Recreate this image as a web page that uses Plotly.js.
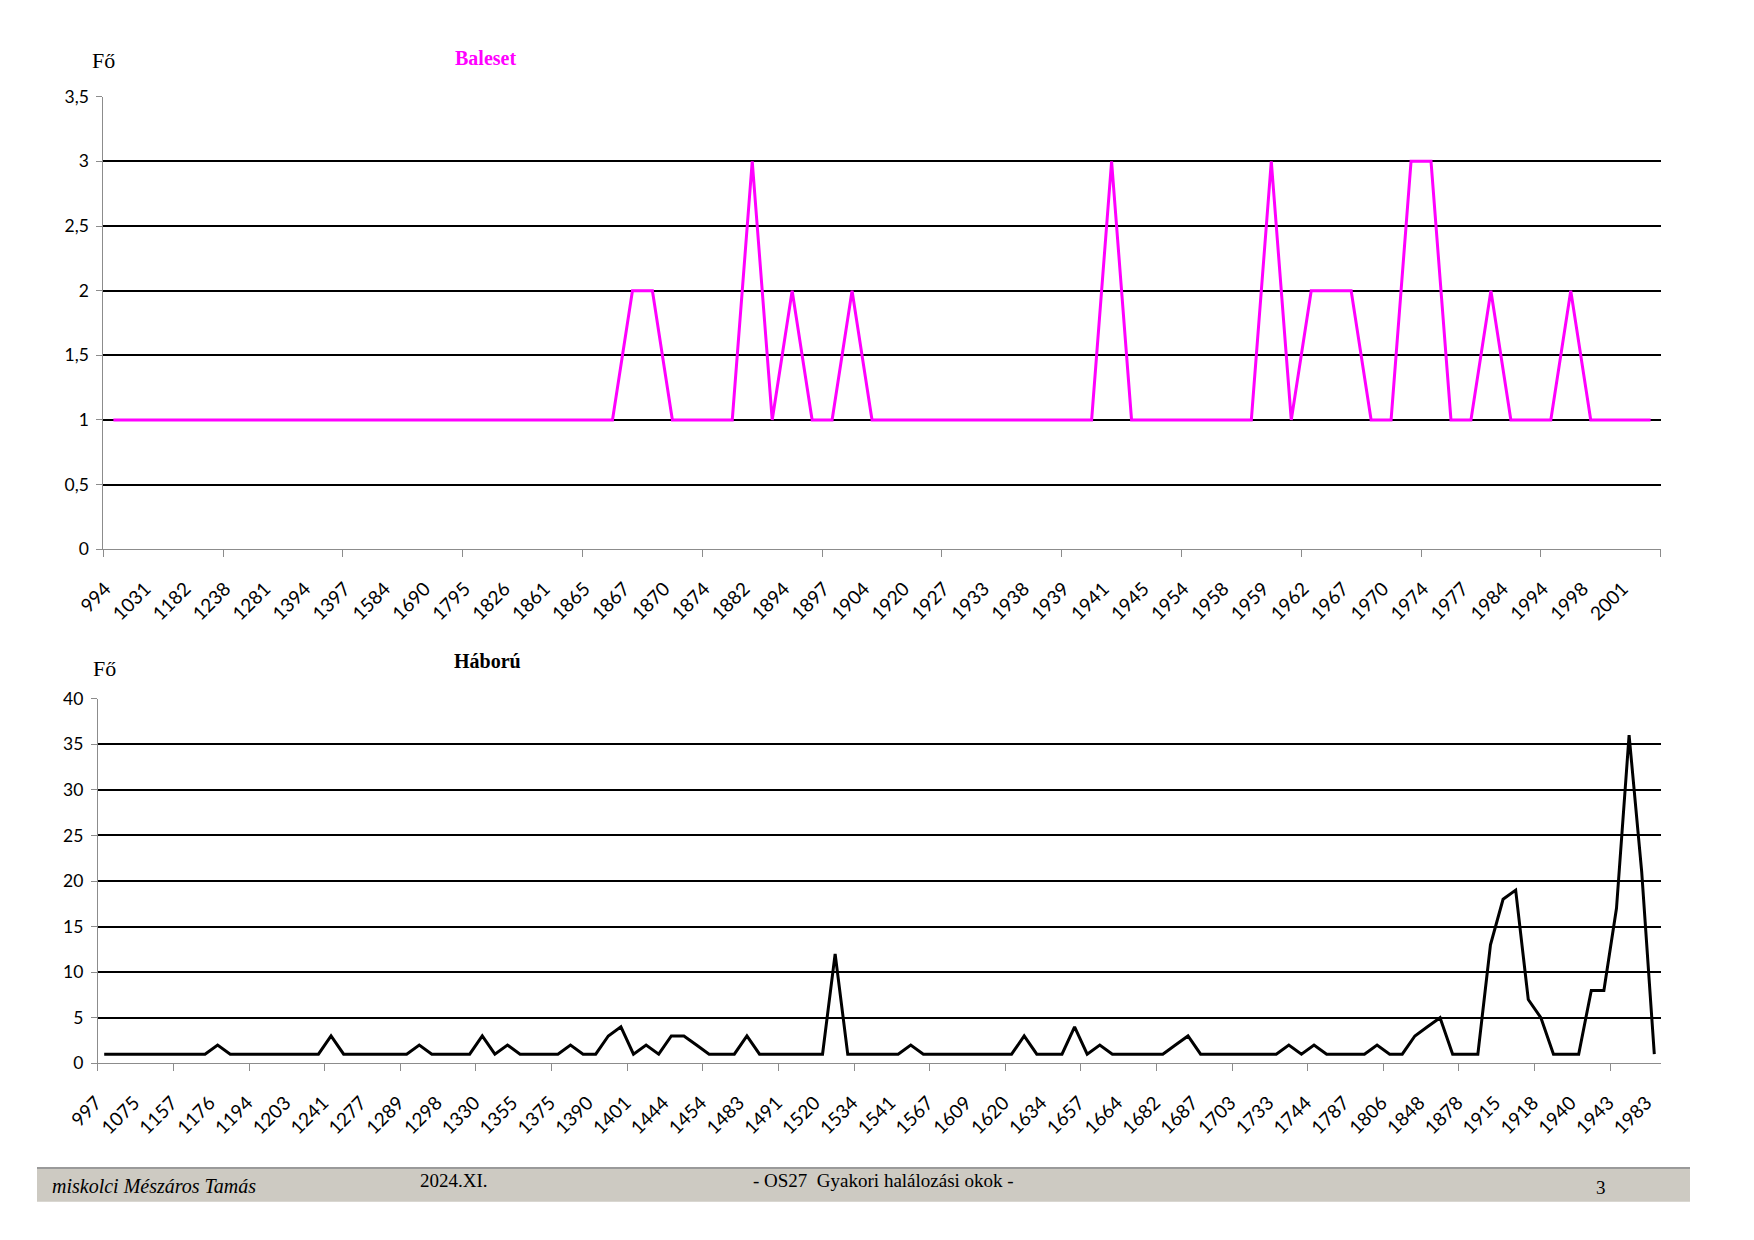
<!DOCTYPE html>
<html>
<head>
<meta charset="utf-8">
<script src="https://cdn.plot.ly/plotly-3.0.1.min.js"></script>
<style>
html,body{margin:0;padding:0;background:#fff;}
#chart{width:1754px;height:1240px;}
</style>
</head>
<body>
<div id="chart"></div>
<script>
// ---- Baleset (accident) chart data: one value per category, every 2nd category labelled
const balesetLabels = ['994','1031','1182','1238','1281','1394','1397','1584','1690','1795','1826','1861','1865','1867','1870','1874','1882','1894','1897','1904','1920','1927','1933','1938','1939','1941','1945','1954','1958','1959','1962','1967','1970','1974','1977','1984','1994','1998','2001'];
const balesetValues = [
  1,1,1,1,1,1,1,1,1,1, 1,1,1,1,1,1,1,1,1,1, 1,1,1,1,1,1,
  2,2, 1,1,1,1, 3, 1, 2, 1,1, 2,
  1,1,1,1,1,1,1,1,1,1,1,1,
  3, 1,1,1,1,1,1,1, 3, 1, 2,2,2, 1,1, 3,3, 1,1, 2, 1,1,1, 2, 1,1,1,1
];
const balesetLabelStep = 2;
const balesetTickStep = 6;

// ---- Háború (war) chart data: one value per category, every 3rd category labelled
const haboruLabels = ['997','1075','1157','1176','1194','1203','1241','1277','1289','1298','1330','1355','1375','1390','1401','1444','1454','1483','1491','1520','1534','1541','1567','1609','1620','1634','1657','1664','1682','1687','1703','1733','1744','1787','1806','1848','1878','1915','1918','1940','1943','1983'];
const haboruValues = [
  1,1,1,1,1,1,1,1,1, 2, 1,1,1,1,1,1,1,1, 3, 1,1,1,1,1,1, 2, 1,1,1,1, 3, 1, 2, 1,1,1,1, 2,
  1,1, 3, 4, 1, 2, 1, 3,3, 2, 1,1,1, 3, 1,1,1,1,1,1, 12, 1,1,1,1,1, 2,
  1,1,1,1,1,1,1,1, 3, 1,1,1, 4, 1, 2, 1,1,1,1,1, 2, 3, 1,1,1,1,1,1,1, 2, 1, 2,
  1,1,1,1, 2, 1,1, 3, 4, 5, 1,1,1, 13, 18, 19, 7, 5, 1,1,1, 8, 8, 17, 36, 21, 1
];
const haboruLabelStep = 3;
const haboruTickStep = 6;

// ---- page geometry helpers (pixels -> paper fractions)
const W = 1754, H = 1240;
const PX = v => v / W;
const PY = v => 1 - v / H;

const indices = arr => arr.map((_, i) => i);
const labelPositions = (labels, step) => labels.map((_, k) => k * step);
function boundaryTicks(n, step, includeEnd) {
  const out = [];
  for (let b = 0; b <= n; b += step) out.push(b - 0.5);
  if (includeEnd && out[out.length - 1] !== n - 0.5) out.push(n - 0.5);
  return out;
}

const AXIS_GRAY = '#8c8c8c';
const tickFontX = {family: 'Lato, "Open Sans", sans-serif', size: 19, color: '#000'};
const tickFontY = {family: 'Lato, "Open Sans", sans-serif', size: 17.5, color: '#000'};

const traces = [
  {
    x: indices(balesetValues), y: balesetValues,
    type: 'scatter', mode: 'lines',
    line: {color: '#FF00FF', width: 3},
    xaxis: 'x', yaxis: 'y', hoverinfo: 'skip'
  },
  {
    x: indices(haboruValues), y: haboruValues,
    type: 'scatter', mode: 'lines',
    line: {color: '#000000', width: 3},
    xaxis: 'x2', yaxis: 'y2', hoverinfo: 'skip'
  }
];

function xAxis(domain, anchor, n, labels, labelStep, tickStep, includeEnd) {
  return {
    domain: domain, anchor: anchor,
    range: [-0.5, n - 0.5],
    tickmode: 'array',
    tickvals: labelPositions(labels, labelStep),
    ticktext: labels,
    tickangle: -45,
    ticks: '',
    showgrid: false, zeroline: false,
    showline: true, linecolor: AXIS_GRAY, linewidth: 1,
    tickfont: tickFontX,
    ticklabelstandoff: 20,
    ticklabelshift: -8,
    minor: {
      tickmode: 'array',
      tickvals: boundaryTicks(n, tickStep, includeEnd),
      ticks: 'outside', ticklen: 7, tickwidth: 1, tickcolor: AXIS_GRAY,
      showgrid: false
    },
    fixedrange: true
  };
}
function yAxis(domain, anchor, max, dtick) {
  return {
    domain: domain, anchor: anchor,
    range: [0, max],
    tickmode: 'linear', tick0: 0, dtick: dtick,
    showgrid: true, gridcolor: '#000', gridwidth: 2,
    zeroline: false,
    showline: true, linecolor: AXIS_GRAY, linewidth: 1,
    ticks: 'outside', ticklen: 6, tickwidth: 1, tickcolor: AXIS_GRAY,
    tickfont: tickFontY,
    ticklabelstandoff: 4,
    fixedrange: true
  };
}

const serif = '"Liberation Serif", "Times New Roman", serif';

const layout = {
  width: W, height: H,
  margin: {l: 0, r: 0, t: 0, b: 0},
  paper_bgcolor: '#fff', plot_bgcolor: '#fff',
  showlegend: false,
  separators: ', ',
  xaxis: xAxis([PX(103.4), PX(1660.6)], 'y', balesetValues.length, balesetLabels, balesetLabelStep, balesetTickStep, true),
  yaxis: yAxis([PY(549.3), PY(96.7)], 'x', 3.5, 0.5),
  xaxis2: xAxis([PX(97.9), PX(1660.6)], 'y2', haboruValues.length, haboruLabels, haboruLabelStep, haboruTickStep, false),
  yaxis2: yAxis([PY(1063.3), PY(698.7)], 'x2', 40, 5),
  shapes: [
    {type: 'rect', xref: 'paper', yref: 'paper', x0: PX(37), x1: PX(1690), y0: PY(1201.7), y1: PY(1167.3),
     fillcolor: '#CDCAC2', line: {width: 0}, layer: 'below'},
    {type: 'line', xref: 'paper', yref: 'paper', x0: PX(37), x1: PX(1690), y0: PY(1168), y1: PY(1168),
     line: {color: '#9a9a9a', width: 2}}
  ],
  annotations: [
    {text: 'Fő', xref: 'paper', yref: 'paper', x: PX(90), y: PY(60.6), xanchor: 'left', yanchor: 'middle',
     showarrow: false, font: {family: serif, size: 22, color: '#000'}},
    {text: '<b>Baleset</b>', xref: 'paper', yref: 'paper', x: PX(485.6), y: PY(58.2), xanchor: 'center', yanchor: 'middle',
     showarrow: false, font: {family: serif, size: 20, color: '#FF00FF'}},
    {text: 'Fő', xref: 'paper', yref: 'paper', x: PX(91), y: PY(668.6), xanchor: 'left', yanchor: 'middle',
     showarrow: false, font: {family: serif, size: 22, color: '#000'}},
    {text: '<b>Háború</b>', xref: 'paper', yref: 'paper', x: PX(487.4), y: PY(661.2), xanchor: 'center', yanchor: 'middle',
     showarrow: false, font: {family: serif, size: 20, color: '#000'}},
    {text: '<i>miskolci Mészáros Tamás</i>', xref: 'paper', yref: 'paper', x: PX(50), y: PY(1185.6), xanchor: 'left', yanchor: 'middle',
     showarrow: false, font: {family: serif, size: 20, color: '#000'}},
    {text: '2024.XI.', xref: 'paper', yref: 'paper', x: PX(418), y: PY(1180.3), xanchor: 'left', yanchor: 'middle',
     showarrow: false, font: {family: serif, size: 19, color: '#000'}},
    {text: '- OS27  Gyakori halálozási okok -', xref: 'paper', yref: 'paper', x: PX(883.5), y: PY(1180.3), xanchor: 'center', yanchor: 'middle',
     showarrow: false, font: {family: serif, size: 19, color: '#000'}},
    {text: '3', xref: 'paper', yref: 'paper', x: PX(1601), y: PY(1187), xanchor: 'center', yanchor: 'middle',
     showarrow: false, font: {family: serif, size: 19, color: '#000'}}
  ]
};

Plotly.newPlot('chart', traces, layout, {staticPlot: true, displayModeBar: false});
</script>
</body>
</html>
